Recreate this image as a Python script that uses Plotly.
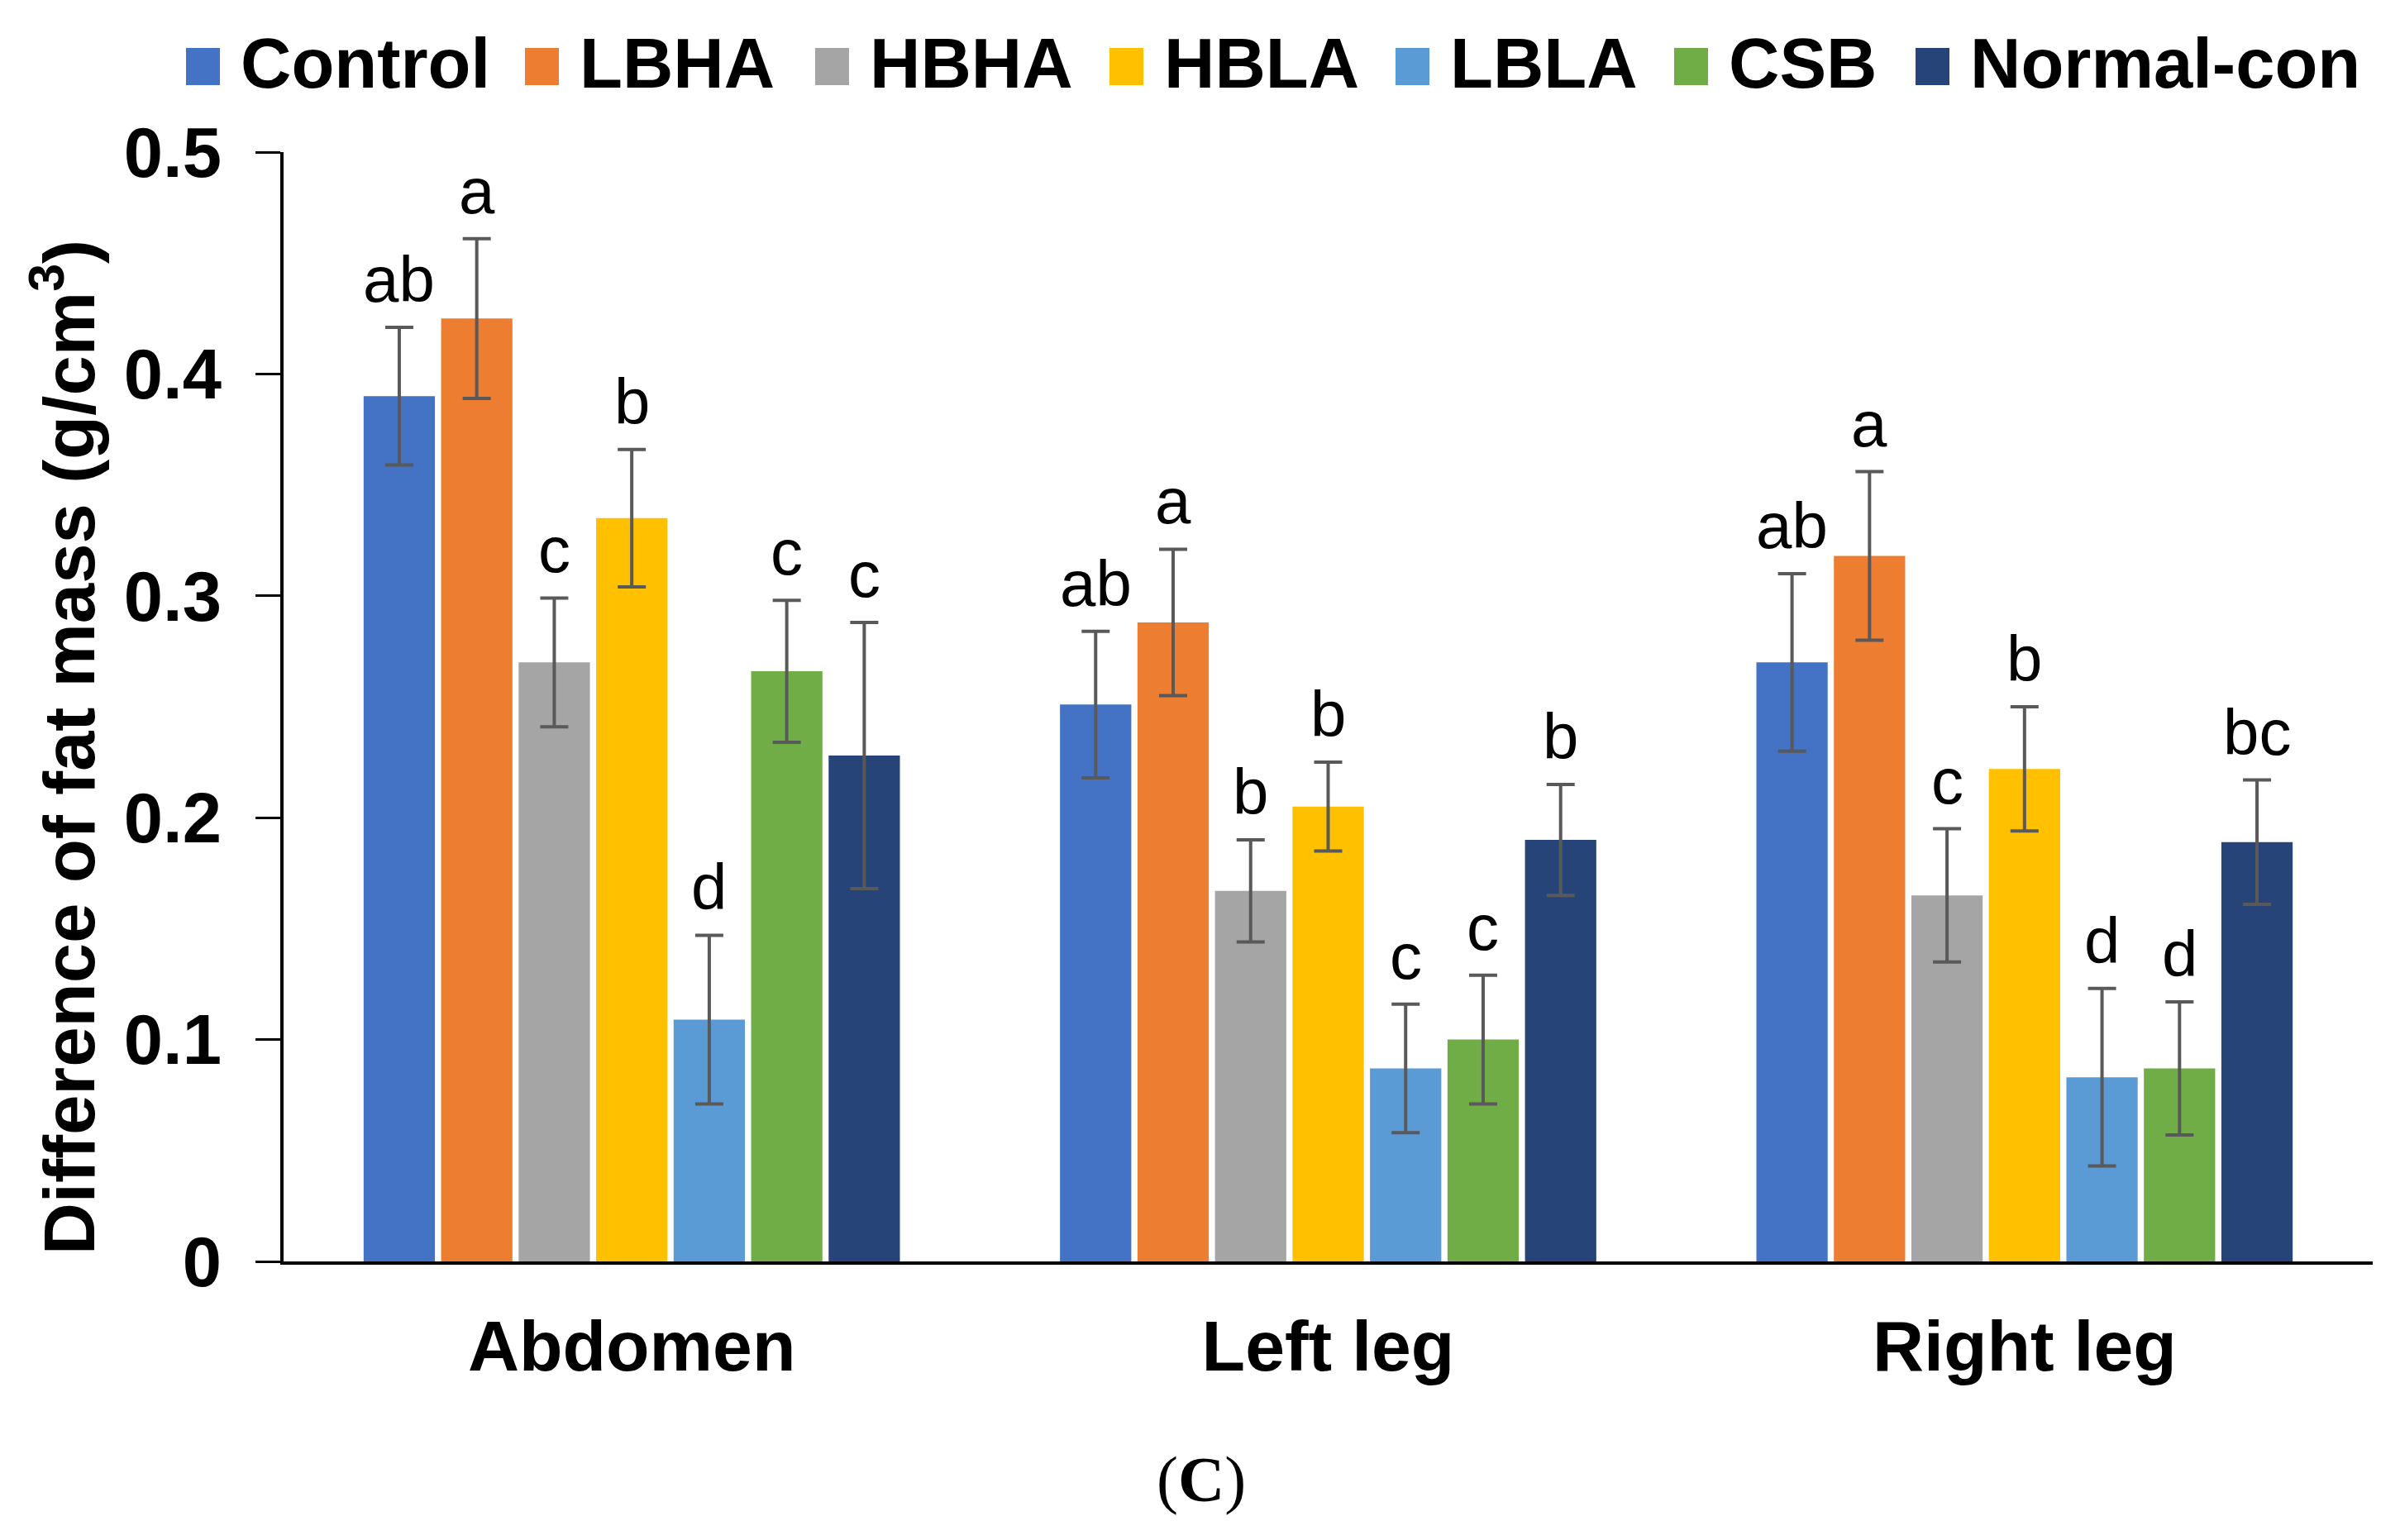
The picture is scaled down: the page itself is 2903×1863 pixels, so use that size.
import plotly.graph_objects as go

categories = ["Abdomen", "Left leg", "Right leg"]
groups = ["Control", "LBHA", "HBHA", "HBLA", "LBLA", "CSB", "Normal-con"]
colors = ["#4472C4", "#ED7D31", "#A5A5A5", "#FFC000", "#5B9BD5", "#70AD47", "#264478"]

# values per group: [Abdomen, Left leg, Right leg]
control = [0.390, 0.251, 0.270]
lbha = [0.425, 0.288, 0.318]
hbha = [0.270, 0.167, 0.165]
hbla = [0.335, 0.205, 0.222]
lbla = [0.109, 0.087, 0.083]
csb = [0.266, 0.100, 0.087]
normal_con = [0.228, 0.190, 0.189]

control_err = [0.031, 0.033, 0.040]
lbha_err = [0.036, 0.033, 0.038]
hbha_err = [0.029, 0.023, 0.030]
hbla_err = [0.031, 0.020, 0.028]
lbla_err = [0.038, 0.029, 0.040]
csb_err = [0.032, 0.029, 0.030]
normal_con_err = [0.060, 0.025, 0.028]

control_lbl = ["ab", "ab", "ab"]
lbha_lbl = ["a", "a", "a"]
hbha_lbl = ["c", "b", "c"]
hbla_lbl = ["b", "b", "b"]
lbla_lbl = ["d", "c", "d"]
csb_lbl = ["c", "c", "d"]
normal_con_lbl = ["c", "b", "bc"]

values = [control, lbha, hbha, hbla, lbla, csb, normal_con]
errors = [control_err, lbha_err, hbha_err, hbla_err, lbla_err, csb_err, normal_con_err]
labels = [control_lbl, lbha_lbl, hbha_lbl, hbla_lbl, lbla_lbl, csb_lbl, normal_con_lbl]

yticks = [0, 0.1, 0.2, 0.3, 0.4, 0.5]
ytick_text = ["0", "0.1", "0.2", "0.3", "0.4", "0.5"]

FONT = "Arial, Liberation Sans, sans-serif"
BARGAP = 0.221
W, H = 2903, 1863
OFF = 8  # page body offset
ML, MR, MT, MB = 335, 41, 176, 345
PW, PH = W - ML - MR, H - MT - MB


def px_x(p):
    return (p - OFF - ML) / PW


def px_y(p):
    return (H - MB - (p - OFF)) / PH


fig = go.Figure()
for g, c, v, e in zip(groups, colors, values, errors):
    fig.add_trace(go.Bar(
        name=g, x=categories, y=v, marker_color=c, marker_line_width=0,
        error_y=dict(type="data", array=e, visible=True, color="#595959",
                     thickness=4, width=17),
    ))

n = len(groups)
slot = (1 - BARGAP) / n
annotations = []
for i, (v, e, lb) in enumerate(zip(values, errors, labels)):
    for j in range(len(categories)):
        annotations.append(dict(
            x=j + (i - (n - 1) / 2) * slot, y=v[j] + e[j], xref="x", yref="y",
            text=lb[j], showarrow=False, yanchor="bottom", yshift=12,
            font=dict(family=FONT, size=78, color="black"),
        ))

# manual legend (larger swatches, as in reference)
legend_swatch_px = [225, 635, 986, 1342, 1688, 2025, 2317]
shapes = []
for g, c, sx in zip(groups, colors, legend_swatch_px):
    shapes.append(dict(type="rect", xref="paper", yref="paper",
                       x0=px_x(sx), x1=px_x(sx + 41), y0=px_y(103), y1=px_y(58),
                       fillcolor=c, line_width=0))
    annotations.append(dict(x=px_x(sx + 64), y=px_y(77), xref="paper", yref="paper",
                            xanchor="left", yanchor="middle", text=g, showarrow=False,
                            font=dict(family=FONT, size=85, color="black", weight="bold")))

# y-axis title
annotations.append(dict(x=px_x(77), y=px_y(904), xref="paper", yref="paper",
                        text="Difference of fat mass (g/cm<sup>3</sup>)", textangle=-90,
                        showarrow=False, xanchor="center", yanchor="middle",
                        font=dict(family=FONT, size=87, color="black", weight="bold")))

# panel label
annotations.append(dict(
    x=px_x(1453), y=px_y(1789), xref="paper", yref="paper", text="(<b>C</b>)",
    showarrow=False, xanchor="center", yanchor="middle",
    font=dict(family="Times New Roman, Liberation Serif, serif", size=78, color="black"),
))

fig.update_layout(
    width=W, height=H,
    paper_bgcolor="white", plot_bgcolor="white",
    margin=dict(l=ML, r=MR, t=MT, b=MB),
    barmode="group", bargap=BARGAP, bargroupgap=0.08,
    font=dict(family=FONT, color="black"),
    showlegend=False,
    annotations=annotations,
    shapes=shapes,
)
fig.update_xaxes(
    showline=True, linecolor="black", linewidth=4, ticks="",
    tickfont=dict(family=FONT, size=86, color="black", weight="bold"),
    showgrid=False, range=[-0.5, 2.5], ticklabelstandoff=25,
)
fig.update_yaxes(
    range=[0, 0.5], tickvals=yticks, ticktext=ytick_text,
    showline=True, linecolor="black", linewidth=4, ticks="outside", ticklen=30, tickwidth=3, tickcolor="black",
    tickfont=dict(family=FONT, size=85, color="black", weight="bold"),
    showgrid=False, zeroline=False, ticklabelstandoff=24,
)
fig.write_html("out.html")
